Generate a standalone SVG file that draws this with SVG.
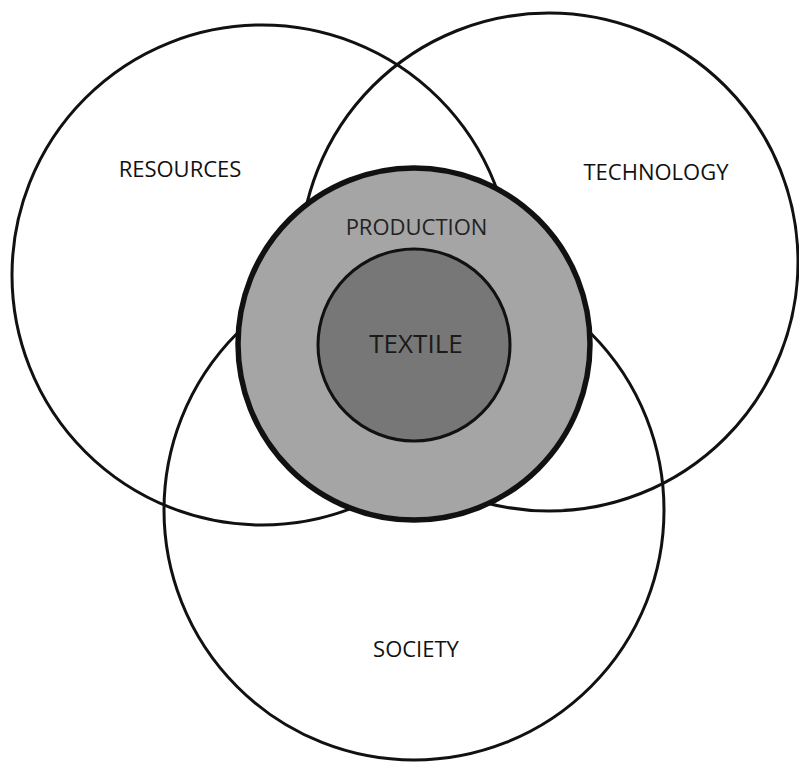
<svg xmlns="http://www.w3.org/2000/svg" width="799" height="763" viewBox="0 0 799 763">
<style>
.big{fill:none;stroke:#111;stroke-width:3}
.lbl{font-family:"Open Sans","Noto Sans","Liberation Sans",sans-serif;font-size:22px;fill:#111;text-anchor:middle}
</style>
<rect width="799" height="763" fill="#fff"/>
<g id="resources"><circle class="big" cx="262" cy="275" r="250"/><text class="lbl" x="180" y="177">RESOURCES</text></g>
<g id="technology"><circle class="big" cx="549" cy="262" r="249"/><text class="lbl" x="656" y="180">TECHNOLOGY</text></g>
<g id="society"><circle class="big" cx="414" cy="510" r="250"/><text class="lbl" x="416" y="657">SOCIETY</text></g>
<g id="production"><circle cx="414" cy="344" r="176" fill="#a5a5a5" stroke="#111" stroke-width="5.5"/><text class="lbl" x="416.5" y="235" style="fill:#222">PRODUCTION</text></g>
<g id="textile"><circle cx="414" cy="345" r="96" fill="#777" stroke="#111" stroke-width="3"/><text class="lbl" x="416" y="353" style="font-size:26px;fill:#1a1a1a">TEXTILE</text></g>
<g id="connectors"></g>
</svg>
